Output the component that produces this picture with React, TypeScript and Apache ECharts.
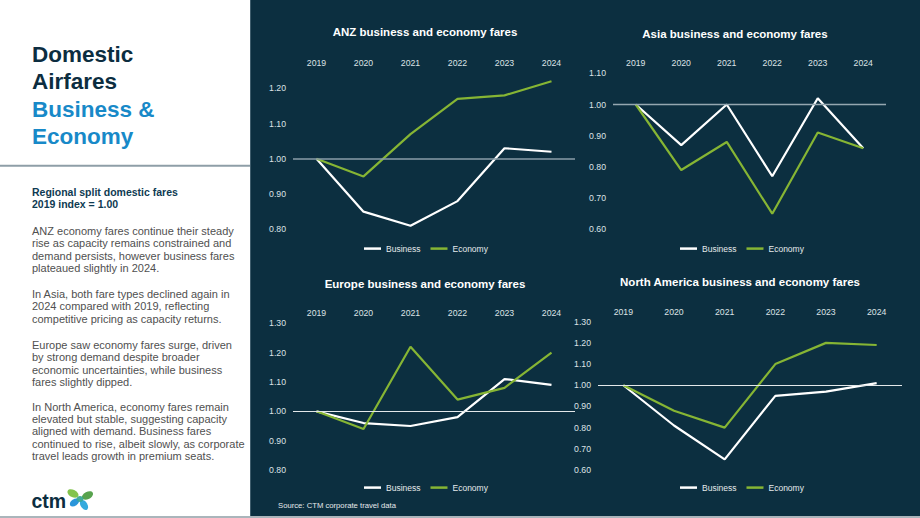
import React, { useEffect, useRef } from 'react';
import * as echarts from 'echarts';

// ---------- data ----------
const years = ['2019', '2020', '2021', '2022', '2023', '2024'];

const anzBusiness = [1.0, 0.85, 0.81, 0.88, 1.03, 1.02];
const anzEconomy = [1.0, 0.95, 1.07, 1.17, 1.18, 1.22];
const asiaBusiness = [1.0, 0.87, 1.0, 0.77, 1.02, 0.86];
const asiaEconomy = [1.0, 0.79, 0.88, 0.65, 0.91, 0.86];
const europeBusiness = [1.0, 0.96, 0.95, 0.98, 1.11, 1.09];
const europeEconomy = [1.0, 0.94, 1.22, 1.04, 1.08, 1.2];
const naBusiness = [1.0, 0.81, 0.65, 0.95, 0.97, 1.01];
const naEconomy = [1.0, 0.88, 0.8, 1.1, 1.2, 1.19];

const chartTitles = [
  'ANZ business and economy fares',
  'Asia business and economy fares',
  'Europe business and economy fares',
  'North America business and economy fares',
];
const yMins = [0.8, 0.6, 0.8, 0.6];
const yMaxs = [1.25, 1.1, 1.3, 1.3];
const indexBase = 1.0;

const headingDark = ['Domestic', 'Airfares'];
const headingBlue = ['Business &', 'Economy'];
const subHeading = ['Regional split domestic fares', '2019 index = 1.00'];
const paragraphs = [
  [
    'ANZ economy fares continue their steady',
    'rise as capacity remains constrained and',
    'demand persists, however business fares',
    'plateaued slightly in 2024.',
  ],
  [
    'In Asia, both fare types declined again in',
    '2024 compared with 2019, reflecting',
    'competitive pricing as capacity returns.',
  ],
  [
    'Europe saw economy fares surge, driven',
    'by strong demand despite broader',
    'economic uncertainties, while business',
    'fares slightly dipped.',
  ],
  [
    'In North America, economy fares remain',
    'elevated but stable, suggesting capacity',
    'aligned with demand. Business fares',
    'continued to rise, albeit slowly, as corporate',
    'travel leads growth in premium seats.',
  ],
];
const sourceText = 'Source: CTM corporate travel data';

// ---------- layout / style ----------
const FONT = '"Liberation Sans", Arial, Helvetica, sans-serif';
const DARK_BG = '#0c2f40';
const WHITE_LINE = '#ffffff';
const GREEN_LINE = '#86b534';
const AXIS_TEXT = '#dde3e6';

const grids = [
  { left: 293, top: 70.7, width: 282, height: 158.6 },
  { left: 613, top: 73.3, width: 273, height: 156 },
  { left: 293, top: 323.3, width: 282, height: 146.7 },
  { left: 598, top: 321.7, width: 304, height: 148.3 },
];
const xLabelMargins = [3, 6, 6, 5.5];
const titlePos = [
  [425, 31.7],
  [735, 34.3],
  [425, 284.3],
  [740, 282.3],
];
const legendPos = [
  [364, 249.3],
  [680, 249.3],
  [364, 488.3],
  [680, 488.3],
];
const baseLineStyles = [
  { color: '#8a9ea8', width: 1.6 },
  { color: '#95a7b0', width: 1.4 },
  { color: '#e3e8ea', width: 1 },
  { color: '#e3e8ea', width: 1 },
];

export default function App() {
  const ref = useRef<HTMLDivElement>(null);

  useEffect(() => {
    if (!ref.current) return;
    const chart = echarts.init(ref.current, null, { renderer: 'svg', width: 920, height: 518 });

    const businessSets = [anzBusiness, asiaBusiness, europeBusiness, naBusiness];
    const economySets = [anzEconomy, asiaEconomy, europeEconomy, naEconomy];

    const graphic: any[] = [];
    // left white panel
    graphic.push({ type: 'rect', shape: { x: 0, y: 0, width: 250, height: 518 }, style: { fill: '#ffffff' }, z: -10, silent: true });
    graphic.push({ type: 'rect', shape: { x: 0, y: 164.7, width: 250, height: 2 }, style: { fill: '#8e9ea7' }, silent: true });
    graphic.push({ type: 'rect', shape: { x: 250, y: 0, width: 1, height: 518 }, style: { fill: '#3f5d6c' }, silent: true });
    graphic.push({ type: 'rect', shape: { x: 0, y: 516, width: 920, height: 2 }, style: { fill: '#aab5bb' }, silent: true });

    const addText = (text: string, x: number, y: number, size: number, weight: string, fill: string, align = 'left') => {
      graphic.push({
        type: 'text',
        silent: true,
        style: {
          text,
          x,
          y,
          fill,
          font: `${weight} ${size}px ${FONT}`,
          textAlign: align,
          textVerticalAlign: 'middle',
        },
      });
    };

    headingDark.forEach((t, i) => addText(t, 32, 54 + i * 27.5, 22.5, 'bold', '#0c2d40'));
    headingBlue.forEach((t, i) => addText(t, 32, 109 + i * 27.5, 22.5, 'bold', '#1889c8'));
    subHeading.forEach((t, i) => addText(t, 32, 191.7 + i * 12.7, 10.5, 'bold', '#0e3a52'));
    const paraStarts = [231, 294, 345, 406.7];
    paragraphs.forEach((lines, p) =>
      lines.forEach((t, i) => addText(t, 32, paraStarts[p] + i * 12.3, 11, 'normal', '#505050')),
    );

    // logo
    addText('ctm', 31.5, 501, 19.5, 'bold', '#0c2d40');
    const leaves = [
      { cx: 73, cy: 493.5, rx: 6, ry: 3.6, rot: -0.5, fill: '#7cc043' },
      { cx: 87.5, cy: 495.5, rx: 6, ry: 3.6, rot: 0.5, fill: '#4f9e45' },
      { cx: 74.5, cy: 502.5, rx: 5.2, ry: 3.3, rot: 0.6, fill: '#1f8fd8' },
      { cx: 84, cy: 505, rx: 5.5, ry: 3.4, rot: -1.0, fill: '#2aa5db' },
      { cx: 80, cy: 499, rx: 3.5, ry: 3, rot: 0, fill: '#3aa896' },
    ];
    leaves.forEach((l) =>
      graphic.push({
        type: 'ellipse',
        silent: true,
        x: l.cx,
        y: l.cy,
        rotation: l.rot,
        shape: { cx: 0, cy: 0, rx: l.rx, ry: l.ry },
        style: { fill: l.fill, opacity: 0.95 },
      }),
    );

    // chart titles
    chartTitles.forEach((t, i) => addText(t, titlePos[i][0], titlePos[i][1], 11.5, 'bold', '#ffffff', 'center'));
    addText(sourceText, 278, 505, 7.7, 'normal', '#e6eaec');

    const option: any = {
      animation: false,
      backgroundColor: DARK_BG,
      textStyle: { fontFamily: FONT },
      grid: grids.map((g) => ({ ...g, containLabel: false, outerBoundsMode: 'none' })),
      xAxis: grids.map((_, i) => ({
        type: 'category',
        gridIndex: i,
        data: years,
        position: 'top',
        boundaryGap: true,
        axisLine: { show: false },
        axisTick: { show: false },
        splitLine: { show: false },
        axisLabel: { color: AXIS_TEXT, fontSize: 8.7, fontFamily: FONT, margin: xLabelMargins[i] },
      })),
      yAxis: grids.map((_, i) => ({
        type: 'value',
        gridIndex: i,
        min: yMins[i],
        max: yMaxs[i],
        interval: 0.1,
        axisLine: { show: false },
        axisTick: { show: false },
        splitLine: { show: false },
        axisLabel: {
          color: AXIS_TEXT,
          fontSize: 8.7,
          fontFamily: FONT,
          margin: 7,
          showMaxLabel: i !== 0,
          formatter: (v: number) => v.toFixed(2),
        },
      })),
      legend: legendPos.map((p) => ({
        left: p[0],
        top: p[1] - 5.2,
        padding: 0,
        itemWidth: 17,
        itemHeight: 2.5,
        itemGap: 10,
        icon: 'rect',
        selectedMode: false,
        textStyle: { color: '#e6eaec', fontSize: 8.5, fontFamily: FONT },
        data: ['Business', 'Economy'],
      })),
      series: [] as any[],
      graphic,
    };

    grids.forEach((_, i) => {
      option.series.push({
        name: 'Business',
        type: 'line',
        xAxisIndex: i,
        yAxisIndex: i,
        data: businessSets[i],
        symbol: 'none',
        color: WHITE_LINE,
        lineStyle: { color: WHITE_LINE, width: 2.2 },
        z: 3,
        markLine: {
          silent: true,
          symbol: 'none',
          label: { show: false },
          lineStyle: { ...baseLineStyles[i], type: 'solid' },
          data: [{ yAxis: indexBase }],
        },
      });
      option.series.push({
        name: 'Economy',
        type: 'line',
        xAxisIndex: i,
        yAxisIndex: i,
        data: economySets[i],
        symbol: 'none',
        color: GREEN_LINE,
        lineStyle: { color: GREEN_LINE, width: 2.2 },
        z: 4,
      });
    });

    chart.setOption(option);
    return () => chart.dispose();
  }, []);

  return <div ref={ref} style={{ position: 'fixed', left: 0, top: 0, width: 920, height: 518 }} />;
}
